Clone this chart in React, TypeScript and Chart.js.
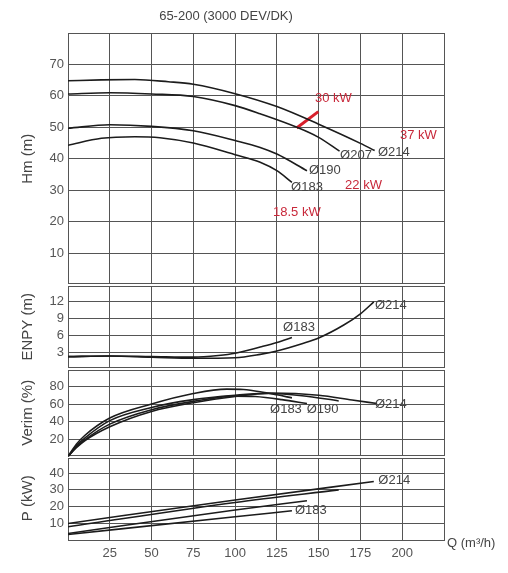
import React, { useEffect, useRef } from "react";
import { Chart, registerables } from "chart.js";

Chart.register(...registerables);

const TITLE = "65-200 (3000 DEV/DK)";
const X_TITLE = "Q (m³/h)";
const Q_TICKS = [25, 50, 75, 100, 125, 150, 175, 200];
const HM_TICKS = [10, 20, 30, 40, 50, 60, 70];
const ENPY_TICKS = [3, 6, 9, 12];
const VERIM_TICKS = [20, 40, 60, 80];
const P_TICKS = [10, 20, 30, 40];

// Head curves [Q, Hm]
const HM_214 = [[0, 64.8], [20, 65.1], [40, 65.2], [60, 64.5], [75, 63.7], [100, 60.7], [125, 56.6], [150, 51.0], [175, 44.9], [183.5, 42.6]];
const HM_207 = [[0, 60.6], [25, 61.0], [50, 60.6], [75, 59.8], [100, 56.9], [115, 54.3], [137, 50.0], [150, 46.8], [162.5, 42.4]];
const HM_190 = [[0, 49.7], [25, 50.8], [50, 50.3], [75, 48.9], [100, 45.8], [115, 43.6], [125, 41.5], [143, 36.2]];
const HM_183 = [[0, 44.3], [20, 46.5], [40, 47.0], [55, 46.7], [75, 45.0], [100, 41.3], [115, 38.9], [125, 36.2], [134, 32.5]];
// 30 kW power limit marker [Q, Hm]
const POWER_MARK = [[136.8, 49.8], [149.8, 55.0]];

// NPSH curves [Q, m]
const ENPY_214 = [[0, 2.2], [25, 2.3], [50, 2.1], [75, 1.9], [100, 2.0], [115, 2.6], [125, 3.2], [140, 4.5], [150, 5.5], [165, 7.8], [175, 9.8], [183, 11.9]];
const ENPY_183 = [[0, 2.2], [25, 2.3], [50, 2.2], [75, 2.1], [90, 2.4], [100, 2.8], [115, 3.9], [125, 4.7], [134, 5.6]];

// Efficiency curves [Q, %]
const VERIM_183 = [[0, 0], [5, 14], [10, 24], [25, 44], [50, 60], [75, 72], [95, 77], [105, 76.5], [115, 74], [125, 70.5], [134, 67]];
const VERIM_190 = [[0, 0], [5, 11], [10, 19], [25, 37], [50, 53.5], [75, 63], [100, 69], [112, 68.5], [128, 65], [143, 60.5]];
const VERIM_207 = [[0, 0], [5, 10], [10, 18], [25, 34], [50, 51.5], [75, 61.5], [100, 68.5], [120, 72], [140, 69.5], [162, 63.5]];
const VERIM_214 = [[0, 0], [5, 12], [10, 21], [25, 41], [50, 56], [75, 65], [100, 70], [122, 72.5], [150, 70], [170, 64.5], [185, 60.5]];

// Power curves [Q, kW]
const P_214 = [[0, 9.9], [100, 24.0], [183, 35.0]];
const P_207 = [[0, 7.9], [100, 22.5], [162, 30.0]];
const P_190 = [[0, 3.9], [100, 18.0], [143, 23.5]];
const P_183 = [[0, 3.3], [100, 13.9], [134, 17.5]];

type Note = { text: string; q: number; v: number; axis: string; color: string };
const DARK = "#444";
const RED = "#c8283a";
const NOTES: Note[] = [
  { text: "Ø214", q: 185.5, v: 41.9, axis: "hm", color: DARK },
  { text: "Ø207", q: 162.8, v: 41.0, axis: "hm", color: DARK },
  { text: "Ø190", q: 144.2, v: 36.2, axis: "hm", color: DARK },
  { text: "Ø183", q: 133.5, v: 30.8, axis: "hm", color: DARK },
  { text: "30 kW", q: 147.8, v: 59.1, axis: "hm", color: RED },
  { text: "37 kW", q: 198.7, v: 47.4, axis: "hm", color: RED },
  { text: "22 kW", q: 165.8, v: 31.4, axis: "hm", color: RED },
  { text: "18.5 kW", q: 122.7, v: 22.8, axis: "hm", color: RED },
  { text: "Ø183", q: 128.7, v: 7.3, axis: "enpy", color: DARK },
  { text: "Ø214", q: 183.7, v: 11.3, axis: "enpy", color: DARK },
  { text: "Ø183", q: 120.9, v: 53.5, axis: "verim", color: DARK },
  { text: "Ø190", q: 142.8, v: 53.5, axis: "verim", color: DARK },
  { text: "Ø214", q: 183.7, v: 59.5, axis: "verim", color: DARK },
  { text: "Ø214", q: 185.7, v: 35.6, axis: "p", color: DARK },
  { text: "Ø183", q: 135.8, v: 18.0, axis: "p", color: DARK },
];

const FONT = "'Liberation Sans', Arial, sans-serif";
const GRID = "#555";
const LINE = "#1c1c1c";

const toPts = (arr: number[][]) => arr.map(([x, y]) => ({ x, y }));

const line = (data: number[][], axis: string, color = LINE, width = 1.6) => ({
  data: toPts(data),
  yAxisID: axis,
  borderColor: color,
  borderWidth: width,
  pointRadius: 0,
  fill: false,
  cubicInterpolationMode: "monotone" as const,
});

const yScale = (min: number, max: number, step: number, ticks: number[], title: string, weight: number, stackWeight: number) => ({
  type: "linear" as const,
  position: "left" as const,
  stack: "panels",
  stackWeight,
  weight,
  min,
  max,
  afterFit: (s: any) => {
    s.width = 60;
  },
  ticks: {
    stepSize: step,
    autoSkip: false,
    padding: 4,
    color: "#555",
    font: { family: FONT, size: 13 },
    callback: (v: any) => (ticks.includes(Number(v)) ? String(v) : ""),
  },
  grid: { color: GRID, lineWidth: 1, drawTicks: false },
  border: { color: GRID, width: 1 },
  title: {
    display: true,
    text: title,
    color: DARK,
    font: { family: FONT, size: 15 },
    padding: { top: 11, bottom: 0 },
  },
});

const panelGaps = {
  id: "panelGaps",
  beforeDatasetsDraw(chart: any) {
    const { ctx, chartArea } = chart;
    const ids = ["hm", "enpy", "verim"];
    ctx.save();
    ids.forEach((id) => {
      const s = chart.scales[id];
      const b = Math.round(s.bottom);
      ctx.fillStyle = "#fff";
      ctx.fillRect(chartArea.left - 2, b - 1, chartArea.right - chartArea.left + 4, 2);
      ctx.strokeStyle = GRID;
      ctx.lineWidth = 1;
      ctx.beginPath();
      ctx.moveTo(chartArea.left, b - 1.5);
      ctx.lineTo(chartArea.right, b - 1.5);
      ctx.moveTo(chartArea.left, b + 1.5);
      ctx.lineTo(chartArea.right, b + 1.5);
      ctx.stroke();
    });
    ctx.restore();
  },
};

const notes = {
  id: "notes",
  afterDatasetsDraw(chart: any) {
    const { ctx, chartArea } = chart;
    const xs = chart.scales.x;
    ctx.save();
    ctx.textBaseline = "middle";
    ctx.textAlign = "left";
    NOTES.forEach((n) => {
      ctx.fillStyle = n.color;
      ctx.font = `13px ${FONT}`;
      ctx.fillText(n.text, xs.getPixelForValue(n.q), chart.scales[n.axis].getPixelForValue(n.v));
    });
    ctx.fillStyle = DARK;
    ctx.font = `13px ${FONT}`;
    ctx.fillText(X_TITLE, chartArea.right + 3, chartArea.bottom + 3);
    ctx.restore();
  },
};

export default function App() {
  const ref = useRef<HTMLCanvasElement | null>(null);
  useEffect(() => {
    if (!ref.current) return;
    const chart = new Chart(ref.current, {
      type: "line",
      data: {
        datasets: [
          line(HM_214, "hm"),
          line(HM_207, "hm"),
          line(HM_190, "hm"),
          line(HM_183, "hm"),
          line(POWER_MARK, "hm", "#d8202c", 3),
          line(ENPY_214, "enpy"),
          line(ENPY_183, "enpy"),
          line(VERIM_183, "verim"),
          line(VERIM_190, "verim"),
          line(VERIM_207, "verim"),
          line(VERIM_214, "verim"),
          line(P_214, "p"),
          line(P_207, "p"),
          line(P_190, "p"),
          line(P_183, "p"),
        ] as any,
      },
      options: {
        animation: false,
        responsive: true,
        maintainAspectRatio: false,
        layout: { padding: { left: 0, right: 56, top: 0, bottom: 0 } },
        plugins: {
          legend: { display: false },
          tooltip: { enabled: false },
          title: {
            display: true,
            text: TITLE,
            color: DARK,
            font: { family: FONT, size: 13, weight: "normal" },
            padding: { top: 1, bottom: 8.4 },
          },
        },
        scales: {
          x: {
            type: "linear",
            min: 0,
            max: 225,
            afterFit: (s: any) => {
              s.height = 25;
            },
            ticks: {
              stepSize: 25,
              autoSkip: false,
              padding: 6,
              color: "#555",
              maxRotation: 0,
              font: { family: FONT, size: 13 },
              callback: (v: any) => (Q_TICKS.includes(Number(v)) ? String(v) : ""),
            },
            grid: { color: GRID, lineWidth: 1, drawTicks: false },
            border: { color: GRID, width: 1 },
          },
          p: yScale(0, 50, 10, P_TICKS, "P (kW)", 1, 83.5),
          verim: yScale(0, 100, 20, VERIM_TICKS, "Verim (%)", 2, 87.5),
          enpy: yScale(0, 15, 3, ENPY_TICKS, "ENPY (m)", 3, 84.5),
          hm: yScale(0, 80, 10, HM_TICKS, "Hm (m)", 4, 251.5),
        } as any,
      },
      plugins: [panelGaps, notes],
    });
    return () => chart.destroy();
  }, []);
  return (
    <div style={{ width: 492, height: 557, position: "relative" }}>
      <canvas ref={ref} />
    </div>
  );
}
